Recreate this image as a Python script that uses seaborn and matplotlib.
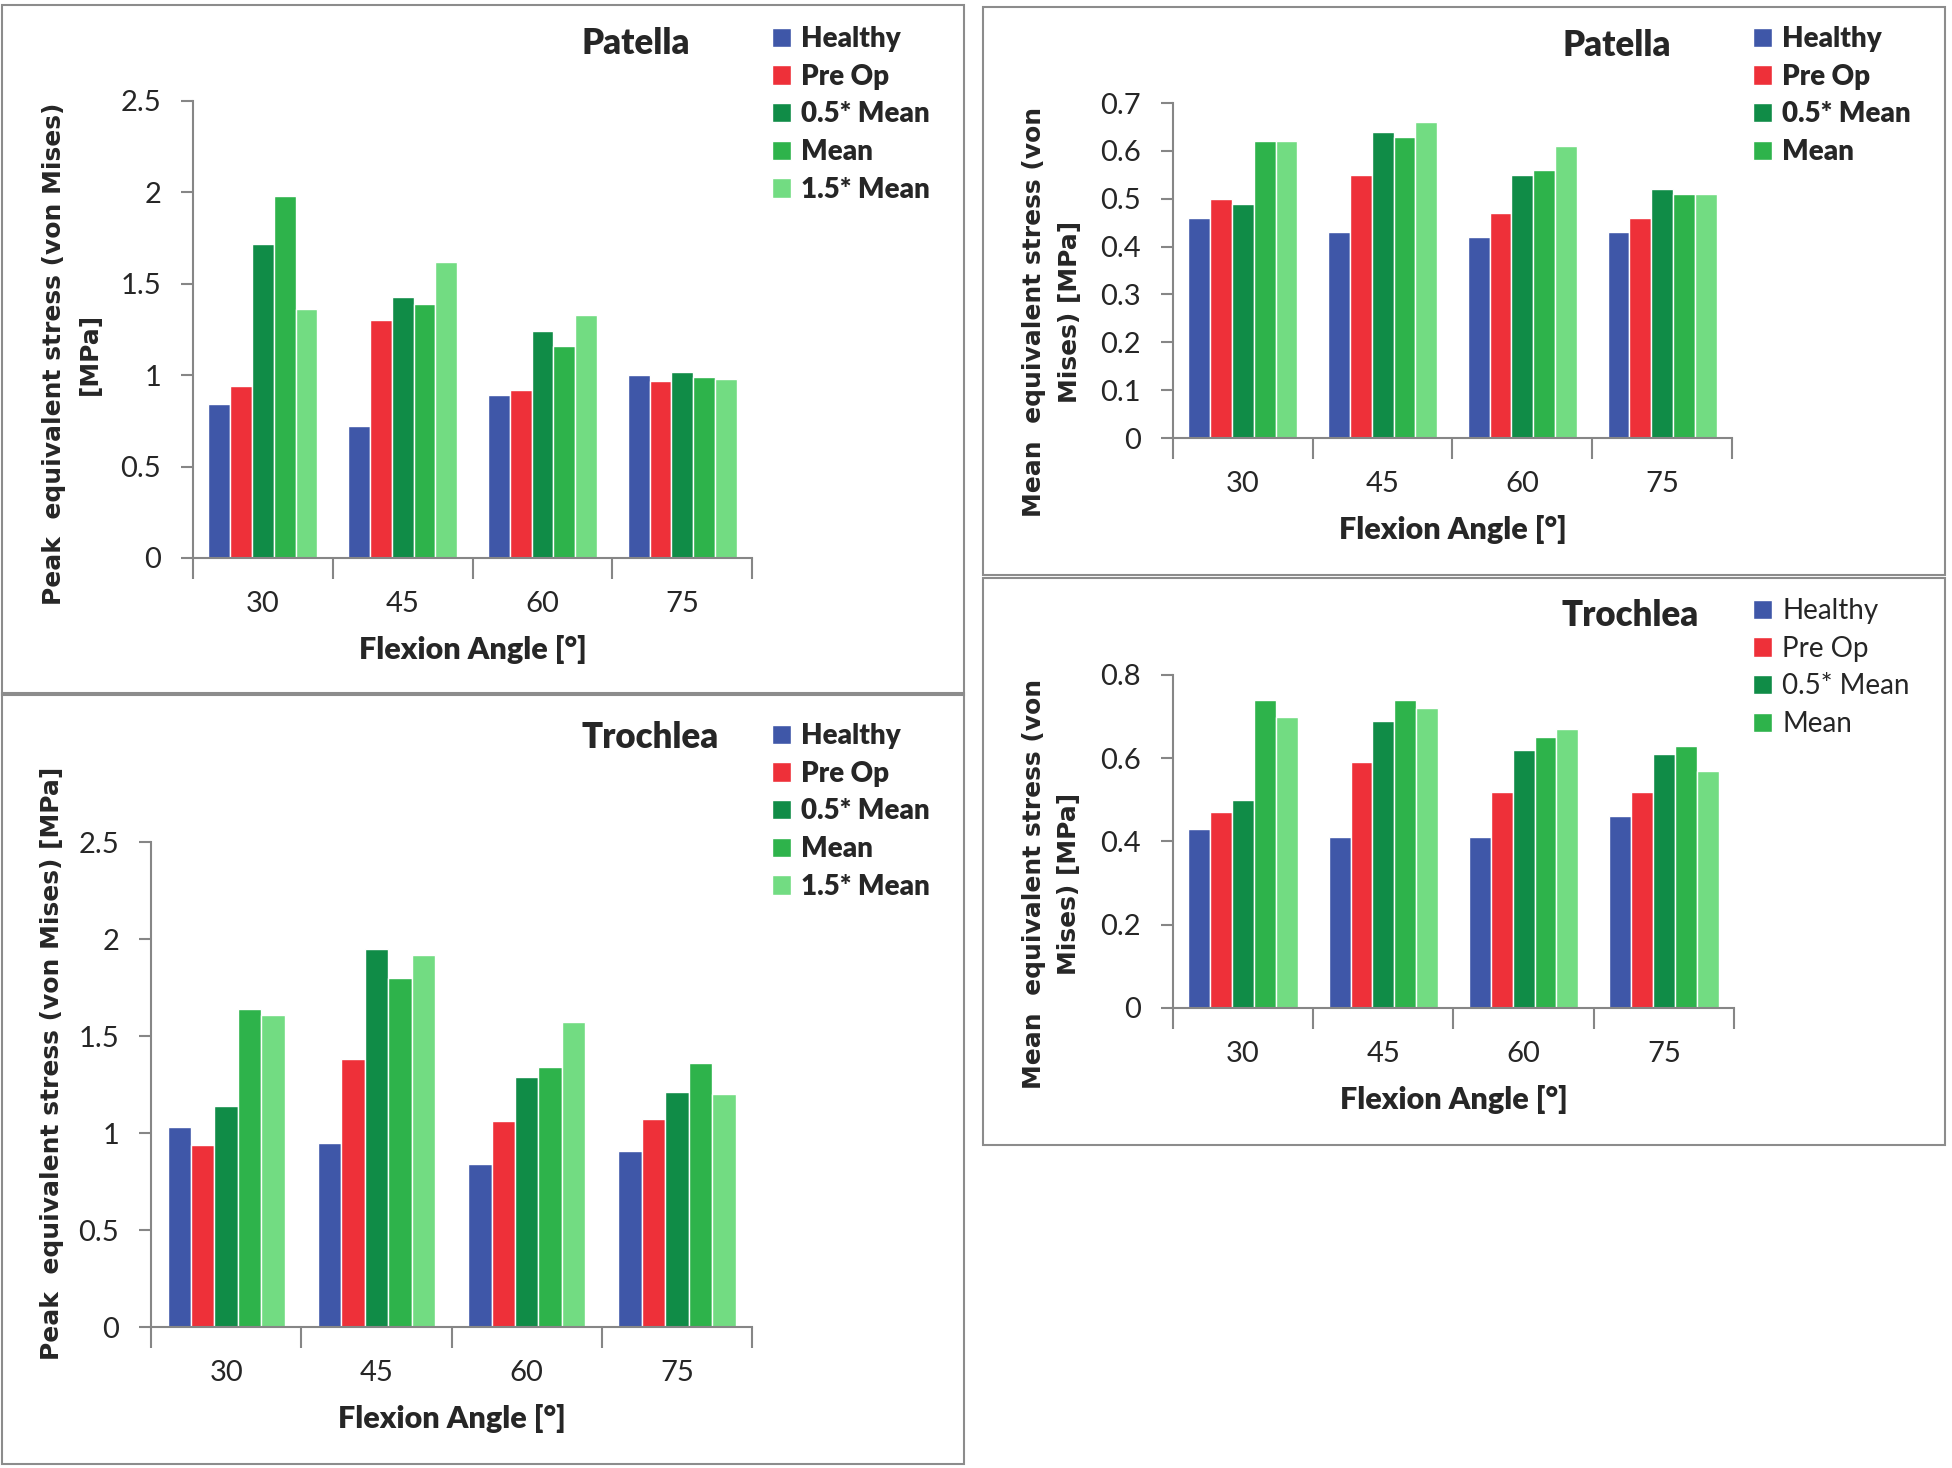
import matplotlib
matplotlib.use("Agg")
import matplotlib.pyplot as plt
from matplotlib.patches import Patch, Rectangle
import pandas as pd
import seaborn as sns

angles = ["30", "45", "60", "75"]
groups = ["Healthy", "Pre Op", "0.5* Mean", "Mean", "1.5* Mean"]
colors = ["#3F57A8", "#EE3039", "#108C47", "#2EB34B", "#72DC82"]

# values per group, one entry per flexion angle
patella_peak = {
    "Healthy": [0.84, 0.72, 0.89, 1.00],
    "Pre Op": [0.94, 1.30, 0.92, 0.97],
    "0.5* Mean": [1.72, 1.43, 1.24, 1.02],
    "Mean": [1.98, 1.39, 1.16, 0.99],
    "1.5* Mean": [1.36, 1.62, 1.33, 0.98],
}
patella_mean = {
    "Healthy": [0.46, 0.43, 0.42, 0.43],
    "Pre Op": [0.50, 0.55, 0.47, 0.46],
    "0.5* Mean": [0.49, 0.64, 0.55, 0.52],
    "Mean": [0.62, 0.63, 0.56, 0.51],
    "1.5* Mean": [0.62, 0.66, 0.61, 0.51],
}
trochlea_peak = {
    "Healthy": [1.03, 0.95, 0.84, 0.91],
    "Pre Op": [0.94, 1.38, 1.06, 1.07],
    "0.5* Mean": [1.14, 1.95, 1.29, 1.21],
    "Mean": [1.64, 1.80, 1.34, 1.36],
    "1.5* Mean": [1.61, 1.92, 1.57, 1.20],
}
trochlea_mean = {
    "Healthy": [0.43, 0.41, 0.41, 0.46],
    "Pre Op": [0.47, 0.59, 0.52, 0.52],
    "0.5* Mean": [0.50, 0.69, 0.62, 0.61],
    "Mean": [0.74, 0.74, 0.65, 0.63],
    "1.5* Mean": [0.70, 0.72, 0.67, 0.57],
}

NARROW = ["Lato", "DejaVu Sans"]
HEAVY = "heavy"
AXCOL = "#868686"

sns.set_style("white")

fig = plt.figure(figsize=(19.52, 14.68), dpi=100)

# panel frames
for r in [(0.001, 0.5266, 0.4928, 0.470), (0.5036, 0.6083, 0.4928, 0.3869),
          (0.001, 0.0027, 0.4928, 0.5252), (0.5036, 0.2200, 0.4928, 0.3862)]:
    fig.add_artist(Rectangle(r[:2], r[2], r[3], transform=fig.transFigure,
                             fill=False, edgecolor="#8c8c8c", lw=1.5))


def to_df(d):
    rows = []
    for g in groups:
        for a, v in zip(angles, d[g]):
            rows.append({"angle": a, "group": g, "value": v})
    return pd.DataFrame(rows)


def panel(rect, d, ymax, ystep, ylabel, ylab_xy, title, title_xy, leg_xy, n_leg, leg_bold):
    ax = fig.add_axes(rect)
    sns.barplot(data=to_df(d), x="angle", y="value", hue="group", order=angles,
                hue_order=groups, palette=colors, width=0.78, gap=0,
                saturation=1, ax=ax, legend=False)
    ax.set_xlim(-0.5, 3.5)
    ax.set_ylim(0, ymax)
    ticks = [round(i * ystep, 2) for i in range(int(round(ymax / ystep)) + 1)]
    ax.set_yticks(ticks)
    ax.set_yticklabels([("%g" % t) for t in ticks], family=NARROW, fontsize=21)
    ax.set_xticks(range(4))
    ax.set_xticklabels(angles, family=NARROW, fontsize=21)
    ax.set_xticks([-0.5, 0.5, 1.5, 2.5, 3.5], minor=True)
    ax.tick_params(which="both", bottom=True, left=True)
    ax.tick_params(axis="x", which="major", length=0, pad=24)
    ax.tick_params(axis="x", which="minor", length=15, width=1.5, color=AXCOL, direction="out")
    ax.tick_params(axis="y", length=9, width=1.5, color=AXCOL, direction="out", pad=14)
    for s in ["top", "right"]:
        ax.spines[s].set_visible(False)
    for s in ["left", "bottom"]:
        ax.spines[s].set_color(AXCOL)
        ax.spines[s].set_linewidth(1.5)
    ax.set_xlabel("Flexion Angle [°]", family=NARROW, fontsize=22, fontweight=HEAVY, labelpad=13)
    ax.set_ylabel(ylabel, fontsize=18, fontweight="bold", family="DejaVu Sans",
                  va="center", linespacing=1.6)
    ax.yaxis.set_label_coords(*ylab_xy)
    fig.text(title_xy[0], title_xy[1], title, family=NARROW, fontsize=25,
             fontweight=HEAVY, ha="center", va="center")
    handles = [Patch(facecolor=colors[i], label=groups[i]) for i in range(n_leg)]
    fig.legend(handles=handles, loc="upper left", bbox_to_anchor=leg_xy,
               frameon=False, handlelength=0.7, handleheight=0.7,
               handletextpad=0.35, labelspacing=0.42, borderpad=0, borderaxespad=0,
               prop={"family": NARROW, "size": 20,
                     "weight": HEAVY if leg_bold else "normal"})
    return ax


panel([0.0989, 0.6199, 0.2864, 0.3113], patella_peak, 2.5, 0.5,
      "Peak  equivalent stress (von Mises)\n[MPa]", (-0.2165, 0.446), "Patella",
      (636 / 1952, 1 - 44 / 1468), (772 / 1952, 1 - 26 / 1468), 5, True)
panel([0.6009, 0.7016, 0.2864, 0.2282], patella_mean, 0.7, 0.1,
      "Mean  equivalent stress (von\nMises) [MPa]", (-0.2165, 0.376), "Patella",
      (1617 / 1952, 1 - 45 / 1468), (1753 / 1952, 1 - 26 / 1468), 4, True)
panel([0.0774, 0.0960, 0.3079, 0.3304], trochlea_peak, 2.5, 0.5,
      "Peak  equivalent stress (von Mises) [MPa]", (-0.165, 0.544), "Trochlea",
      (650 / 1952, 1 - 737 / 1468), (772 / 1952, 1 - 723 / 1468), 5, True)
panel([0.6009, 0.3134, 0.2874, 0.2268], trochlea_mean, 0.8, 0.2,
      "Mean  equivalent stress (von\nMises) [MPa]", (-0.216, 0.372), "Trochlea",
      (1630 / 1952, 1 - 615 / 1468), (1753 / 1952, 1 - 598 / 1468), 4, False)

plt.savefig("out.png", dpi=100)
